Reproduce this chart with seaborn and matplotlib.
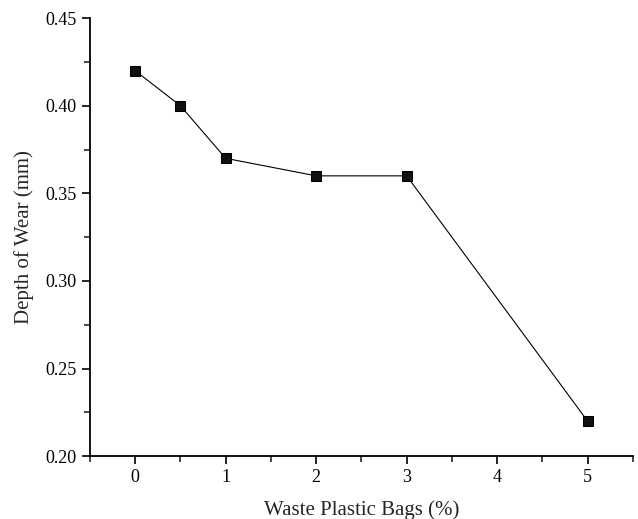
import numpy as np
import pandas as pd
import seaborn as sns
import matplotlib.pyplot as plt
from matplotlib.ticker import MultipleLocator

x_pos = [0, 0.5, 1, 2, 3, 5]
depth = [0.42, 0.40, 0.37, 0.36, 0.36, 0.22]

sns.set_style("ticks")
plt.rcParams['font.family'] = ['Liberation Serif', 'DejaVu Serif']

df = pd.DataFrame({"x": x_pos, "y": depth})

fig = plt.figure(figsize=(6.38, 5.19), dpi=100)
ax = fig.add_axes([0.141, 0.121, 0.851, 0.844])
sns.lineplot(data=df, x="x", y="y", ax=ax, color="black", linewidth=0.8,
             marker="s", markersize=7, markeredgecolor="black",
             markerfacecolor="#111111")

ax.set_xlim(-0.5, 5.5)
ax.set_ylim(0.20, 0.45)
ax.xaxis.set_major_locator(MultipleLocator(1))
ax.xaxis.set_minor_locator(MultipleLocator(0.5))
ax.yaxis.set_major_locator(MultipleLocator(0.05))
ax.yaxis.set_minor_locator(MultipleLocator(0.025))
ax.yaxis.set_major_formatter(plt.FormatStrFormatter("%.2f"))
ax.tick_params(which="major", direction="out", length=6, width=1.2, labelsize=13, colors="black")
ax.tick_params(which="minor", direction="out", length=4, width=1.2)
for s in ["left", "bottom"]:
    ax.spines[s].set_linewidth(1.3)
    ax.spines[s].set_color("black")
sns.despine(ax=ax)
ax.set_xlabel("Waste Plastic Bags (%)", fontsize=15, labelpad=10)
ax.set_ylabel("Depth of Wear (mm)", fontsize=15, labelpad=8)

fig.savefig("out.png", dpi=100)
